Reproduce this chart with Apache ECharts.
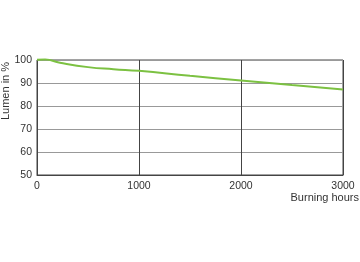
<!DOCTYPE html>
<html><head><meta charset="utf-8">
<script src="https://cdn.jsdelivr.net/npm/echarts@6/dist/echarts.min.js"></script>
<style>html,body{margin:0;padding:0;background:#fff}#c{width:360px;height:262px}</style>
</head><body><div id="c"></div>
<script>
var hours = [0, 80, 225, 500, 750, 1000, 1500, 2000, 2500, 3000];
var lumen = [100.1, 100.2, 98.8, 96.9, 96.0, 95.3, 93.1, 91.1, 89.1, 87.2];
var xTicks = [0, 1000, 2000, 3000];
var yTicks = [50, 60, 70, 80, 90, 100];
var xName = 'Burning hours';
var yName = 'Lumen in %';
var chart = echarts.init(document.getElementById('c'));
chart.setOption({
  animation: false,
  grid: {left: 37, right: 17, top: 60, bottom: 87, show: true, borderColor: '#444', borderWidth: 1,
         containLabel: false, outerBoundsMode: 'none'},
  graphic: [{
    type: 'text', x: 6, y: 91, rotation: Math.PI / 2,
    style: {text: yName, fill: '#333', font: '11px "Liberation Sans"', textAlign: 'center', textVerticalAlign: 'middle'}
  }],
  xAxis: {
    type: 'value', min: 0, max: 3000, interval: 1000,
    name: xName, nameLocation: 'end',
    nameGap: 0,
    nameTextStyle: {color: '#333', fontSize: 11, fontFamily: 'Liberation Sans', align: 'right', verticalAlign: 'top', padding: [17, -16, 0, 0]},
    axisLine: {show: true, lineStyle: {color: '#444'}},
    axisTick: {show: false},
    axisLabel: {color: '#333', fontSize: 10.5, fontFamily: 'Liberation Sans', margin: 6,
                formatter: function(v){ return String(v); }},
    splitLine: {show: true, lineStyle: {color: '#444', width: 1}}
  },
  yAxis: {
    type: 'value', min: 50, max: 100, interval: 10,
    axisLine: {show: true, lineStyle: {color: '#444'}},
    axisTick: {show: false},
    axisLabel: {color: '#333', fontSize: 10.5, fontFamily: 'Liberation Sans', margin: 5,
                formatter: function(v){ return String(v); }},
    splitLine: {show: true, lineStyle: {color: '#999', width: 1}}
  },
  series: [{
    type: 'line', smooth: true, symbol: 'none', clip: false,
    lineStyle: {color: '#7cc142', width: 2},
    data: hours.map(function(h, i){ return [h, lumen[i]]; })
  }]
});
</script></body></html>
